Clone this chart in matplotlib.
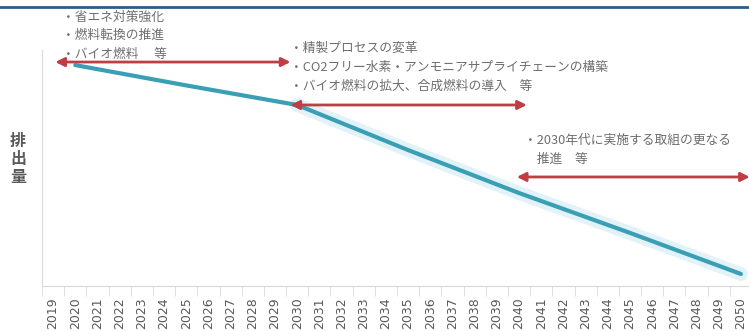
import matplotlib.pyplot as plt
from matplotlib.lines import Line2D

plt.rcParams['font.family'] = ['Noto Sans CJK JP', 'DejaVu Sans']

# categories (x axis)
years = [str(y) for y in range(2019, 2051)]

# emission pathway (arbitrary units)
path_years = ['2020', '2025', '2030', '2035', '2040', '2045', '2050']
path_values = [93.6, 85.0, 76.7, 57.6, 39.4, 22.5, 5.1]

# measures by period: (start, end, level of arrow) in year-index units
phase_start = [0.1, 10.7, 20.9]
phase_end = [10.7, 21.35, 31.4]
phase_level = [94.9, 76.7, 46.2]

block1 = ['・省エネ対策強化', '・燃料転換の推進', '・バイオ燃料　 等']
block2 = ['・精製プロセスの変革',
          '・CO2フリー水素・アンモニアサプライチェーンの構築',
          '・バイオ燃料の拡大、合成燃料の導入　等']
block3 = ['・2030年代に実施する取組の更なる', '　推進　等']

W, H = 749, 331
fig = plt.figure(figsize=(W / 100, H / 100), dpi=100)
ax = fig.add_axes([42 / W, (H - 286) / H, 710 / W, 236 / H])

xi = [years.index(y) for y in path_years]
ax.plot(xi[2:], path_values[2:], color='#cfeaf5', lw=10, alpha=0.6,
        solid_capstyle='round', zorder=2)
ax.plot(xi, path_values, color='#3a9fb5', lw=3, solid_capstyle='round', zorder=3)

for s, e, lv in zip(phase_start, phase_end, phase_level):
    ax.annotate('', xy=(e, lv), xytext=(s, lv), annotation_clip=False,
                arrowprops=dict(arrowstyle='<|-|>', color='#bf3d43', lw=2,
                                mutation_scale=13, shrinkA=0, shrinkB=0))

ax.set_xlim(-0.5, len(years) - 0.5)
ax.set_ylim(0, 100)
ax.set_xticks(range(len(years)))
ax.set_xticklabels(years, rotation=90, fontsize=9, color='#595959',
                   family='DejaVu Sans', va='top')
ax.tick_params(axis='x', length=0, pad=8)
ax.set_xticks([i - 0.5 for i in range(len(years) + 1)], minor=True)
ax.tick_params(axis='x', which='minor', length=7, color='#d9d9d9')
ax.set_yticks([])
for side in ['top', 'right']:
    ax.spines[side].set_visible(False)
for side in ['left', 'bottom']:
    ax.spines[side].set_color('#d9d9d9')

fig.text(18 / W, 1 - 159 / H, '排\n出\n量', fontsize=11.5, fontweight='bold',
         color='#595959', ha='center', va='center', linespacing=1.15)

txt = dict(fontsize=9.2, color='#6e6e6e', va='center', ha='left')
for i, s in enumerate(block1):
    fig.text(62 / W, 1 - (17 + 18.5 * i) / H, s, **txt)
for i, s in enumerate(block2):
    fig.text(290 / W, 1 - (48 + 19 * i) / H, s, **txt)
for i, s in enumerate(block3):
    fig.text(524 / W, 1 - (140 + 19.5 * i) / H, s, **txt)

fig.add_artist(Line2D([0, 1], [1 - 7 / H, 1 - 7 / H], transform=fig.transFigure,
                      color='#2f5d87', lw=2))

fig.savefig('out.png', dpi=100)
